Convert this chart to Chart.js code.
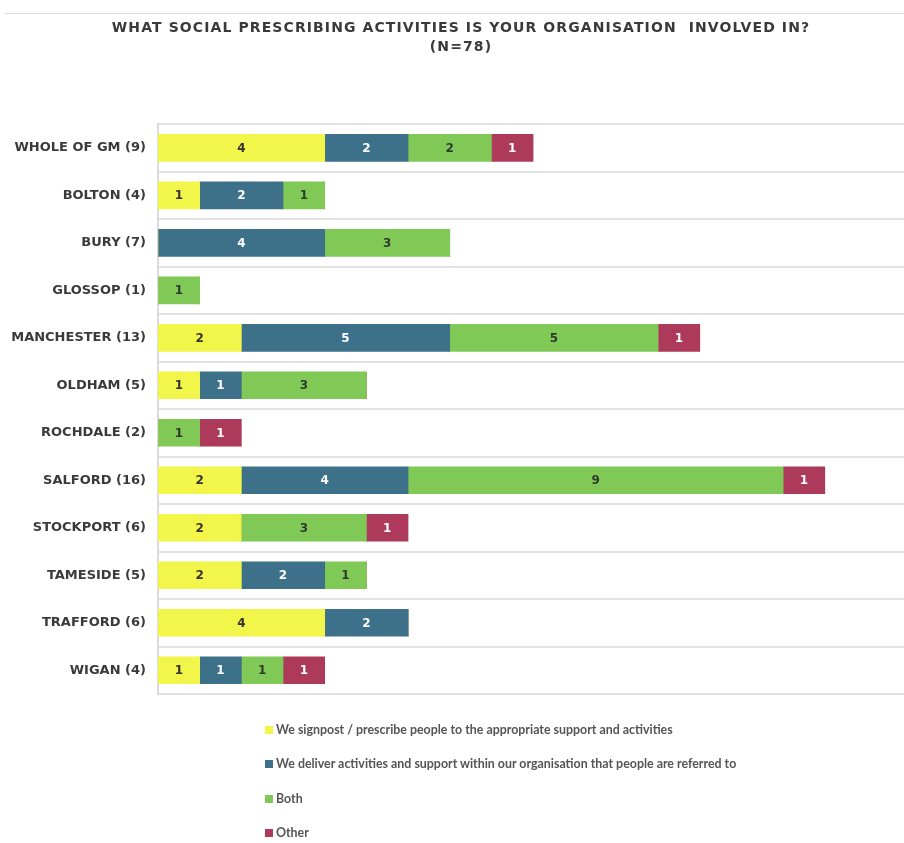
<!DOCTYPE html>
<html>
<head>
<meta charset="utf-8">
<script src="https://cdn.jsdelivr.net/npm/chart.js@4"></script>
<style>
  html, body { margin: 0; padding: 0; background: #fff; }
  #wrap { position: relative; width: 904px; height: 843px; }
  #topline { position: absolute; left: 5px; right: 0; top: 13px; border-top: 1px solid #dcdcdc; }
  #legend { position: absolute; left: 265px; top: 721px; font: bold 12.4px Lato, sans-serif; color: #555; }
  #legend div { height: 34.4px; line-height: 18px; white-space: nowrap; }
  #legend span.box { display: inline-block; width: 8px; height: 8px; margin-right: 3px; }
</style>
</head>
<body>
<div id="wrap">
  <div id="topline"></div>
  <canvas id="chart" width="904" height="843"></canvas>
  <div id="legend"></div>
</div>
<script>
const categories = [
  'WHOLE OF GM (9)', 'BOLTON (4)', 'BURY (7)', 'GLOSSOP (1)', 'MANCHESTER (13)', 'OLDHAM (5)',
  'ROCHDALE (2)', 'SALFORD (16)', 'STOCKPORT (6)', 'TAMESIDE (5)', 'TRAFFORD (6)', 'WIGAN (4)',
];
const seriesNames = [
  'We signpost / prescribe people to the appropriate support and activities',
  'We deliver activities and support within our organisation that people are referred to',
  'Both',
  'Other',
];
const signpost = [4, 1, 0, 0, 2, 1, 0, 2, 2, 2, 4, 1];
const deliver = [2, 2, 4, 0, 5, 1, 0, 4, 0, 2, 2, 1];
const both = [2, 1, 3, 1, 5, 3, 1, 9, 3, 1, 0, 1];
const other = [1, 0, 0, 0, 1, 0, 1, 1, 1, 0, 0, 1];

const colors = ['#f3f64a', '#3d7089', '#80c957', '#ad3a5a'];
const labelColors = ['#333333', '#ffffff', '#2f3a2a', '#ffffff'];

const valueLabels = {
  id: 'valueLabels',
  afterDatasetsDraw(chart) {
    const ctx = chart.ctx;
    ctx.save();
    ctx.font = 'bold 12px "DejaVu Sans", sans-serif';
    ctx.textAlign = 'center';
    ctx.textBaseline = 'middle';
    chart.data.datasets.forEach((ds, i) => {
      chart.getDatasetMeta(i).data.forEach((bar, j) => {
        if (!ds.data[j]) return;
        ctx.fillStyle = labelColors[i];
        ctx.fillText(String(ds.data[j]), (bar.x + bar.base) / 2, bar.y + 1);
      });
    });
    ctx.restore();
  },
};

// letter-spaced title, nudged right a little like the original
const spacedTitle = {
  id: 'spacedTitle',
  beforeUpdate(chart) {
    const block = chart.titleBlock;
    if (!block || block._spaced) return;
    const draw = block.draw;
    block.draw = function () {
      const ctx = chart.ctx;
      ctx.save();
      ctx.letterSpacing = '1.1px';
      ctx.translate(9, 0);
      draw.call(this);
      ctx.restore();
    };
    block._spaced = true;
  },
};

const chart = new Chart(document.getElementById('chart'), {
  type: 'bar',
  data: {
    labels: categories,
    datasets: [signpost, deliver, both, other].map((data, i) => ({
      label: seriesNames[i],
      data,
      backgroundColor: colors[i],
      borderWidth: 0,
      barThickness: 27,
    })),
  },
  options: {
    indexAxis: 'y',
    responsive: false,
    animation: false,
    layout: { padding: { top: 0, right: 0, bottom: 149, left: 0 } },
    plugins: {
      legend: { display: false },
      tooltip: { enabled: false },
      title: {
        display: true,
        text: ['WHAT SOCIAL PRESCRIBING ACTIVITIES IS YOUR ORGANISATION  INVOLVED IN?', '(N=78)'],
        color: '#3a3a3a',
        font: { family: '"DejaVu Sans", sans-serif', size: 14, weight: 'bold', lineHeight: 1.36 },
        padding: { top: 19, bottom: 67 },
      },
    },
    scales: {
      x: {
        stacked: true,
        display: false,
        min: 0,
        max: 17.9,
      },
      y: {
        stacked: true,
        afterFit(scale) { scale.width = 158; },
        grid: { offset: true, color: '#e2e2e2', lineWidth: 2, drawTicks: false },
        border: { color: '#dcdcdc', width: 2 },
        ticks: {
          padding: 12,
          color: '#3a3a3a',
          font: { family: '"DejaVu Sans", sans-serif', size: 13, weight: 'bold' },
        },
      },
    },
  },
  plugins: [spacedTitle, valueLabels],
});
chart.update();

const legendEl = document.getElementById('legend');
chart.data.datasets.forEach((ds) => {
  const row = document.createElement('div');
  const box = document.createElement('span');
  box.className = 'box';
  box.style.background = ds.backgroundColor;
  row.appendChild(box);
  row.appendChild(document.createTextNode(ds.label));
  legendEl.appendChild(row);
});
</script>
</body>
</html>
